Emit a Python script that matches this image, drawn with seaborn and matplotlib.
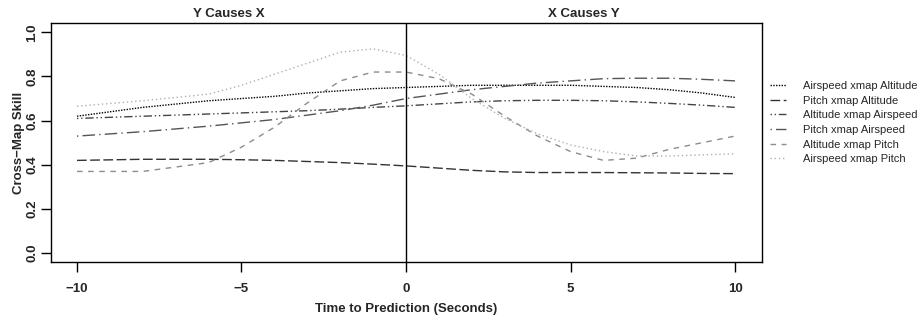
import numpy as np
import pandas as pd
import seaborn as sns
import matplotlib.pyplot as plt

# -------- Data --------
lags = [-10, -8, -6, -5, -4, -3, -2, -1, 0, 1, 2, 3, 4, 5, 6, 7, 8, 9, 10]

airspeed_xmap_altitude = [0.62, 0.66, 0.69, 0.70, 0.71, 0.725, 0.735, 0.745, 0.75, 0.755, 0.76, 0.76, 0.76, 0.76, 0.755, 0.75, 0.74, 0.725, 0.705]
pitch_xmap_altitude = [0.42, 0.425, 0.425, 0.423, 0.42, 0.415, 0.41, 0.403, 0.395, 0.385, 0.375, 0.368, 0.365, 0.365, 0.365, 0.364, 0.363, 0.361, 0.36]
altitude_xmap_airspeed = [0.61, 0.62, 0.63, 0.635, 0.64, 0.645, 0.652, 0.66, 0.667, 0.676, 0.685, 0.69, 0.692, 0.692, 0.69, 0.685, 0.678, 0.67, 0.66]
pitch_xmap_airspeed = [0.53, 0.55, 0.575, 0.59, 0.605, 0.625, 0.645, 0.67, 0.70, 0.72, 0.74, 0.755, 0.77, 0.78, 0.79, 0.792, 0.792, 0.787, 0.78]
altitude_xmap_pitch = [0.37, 0.37, 0.41, 0.48, 0.57, 0.68, 0.78, 0.82, 0.82, 0.79, 0.72, 0.62, 0.53, 0.46, 0.42, 0.43, 0.47, 0.50, 0.53]
airspeed_xmap_pitch = [0.665, 0.69, 0.72, 0.76, 0.81, 0.86, 0.91, 0.925, 0.895, 0.81, 0.70, 0.61, 0.54, 0.49, 0.46, 0.44, 0.44, 0.445, 0.45]

series_names = ["Airspeed xmap Altitude", "Pitch xmap Altitude", "Altitude xmap Airspeed",
                "Pitch xmap Airspeed", "Altitude xmap Pitch", "Airspeed xmap Pitch"]
series_values = [airspeed_xmap_altitude, pitch_xmap_altitude, altitude_xmap_airspeed,
                 pitch_xmap_airspeed, altitude_xmap_pitch, airspeed_xmap_pitch]

# -------- Styles --------
colors = ["#000000", "#333333", "#444444", "#555555", "#8c8c8c", "#b0b0b0"]
dash_list = [(1, 1), (7, 2.5), (1, 2, 1, 2, 6, 2), (1, 3, 9, 3), (4, 4), (1, 2)]

df = pd.concat([
    pd.DataFrame({"lag": lags, "skill": vals, "series": name})
    for name, vals in zip(series_names, series_values)
], ignore_index=True)

sns.set_style("ticks")
plt.rcParams["font.family"] = ["Liberation Sans", "DejaVu Sans"]

fig = plt.figure(figsize=(9.24, 3.18), dpi=100)
ax = fig.add_axes([51 / 924, 56 / 318, 711 / 924, 239 / 318])

sns.lineplot(data=df, x="lag", y="skill", hue="series", style="series",
             hue_order=series_names, style_order=series_names,
             palette=dict(zip(series_names, colors)),
             dashes=dict(zip(series_names, dash_list)),
             linewidth=1.0, ax=ax)

ax.axvline(0, color="black", linewidth=1.0)

ax.set_xlim(-10.79, 10.82)
ax.set_ylim(-0.04, 1.042)
ax.set_xticks([-10, -5, 0, 5, 10])
ax.set_xticklabels(["\u221210", "\u22125", "0", "5", "10"], fontweight="bold", fontsize=9.5)
ax.set_yticks([0.0, 0.2, 0.4, 0.6, 0.8, 1.0])
ax.set_yticklabels(["0.0", "0.2", "0.4", "0.6", "0.8", "1.0"], fontweight="bold",
                   fontsize=9.5, rotation=90, va="center")
ax.tick_params(axis="both", direction="out", length=7, width=1, color="black",
               bottom=True, left=True)
ax.tick_params(axis="x", pad=8)
ax.tick_params(axis="y", pad=2)
for s in ax.spines.values():
    s.set_visible(True)
    s.set_color("black")
    s.set_linewidth(1.0)

ax.set_xlabel("Time to Prediction (Seconds)", fontweight="bold", fontsize=9.5, labelpad=6)
ax.set_ylabel("Cross\u2212Map Skill", fontweight="bold", fontsize=9.5, labelpad=1)

ax.text(0.25, 1.012, "Y Causes X", transform=ax.transAxes, ha="center", va="bottom",
        fontweight="bold", fontsize=9.5)
ax.text(0.75, 1.012, "X Causes Y", transform=ax.transAxes, ha="center", va="bottom",
        fontweight="bold", fontsize=9.5)

sns.move_legend(ax, "upper left", bbox_to_anchor=(770 / 924, (318 - 81) / 318),
                bbox_transform=fig.transFigure, borderaxespad=0, borderpad=0,
                frameon=False, title=None, fontsize=8, handlelength=1.4,
                handletextpad=1.6, labelspacing=0.42)

plt.savefig("out.png", dpi=100)
plt.close()
